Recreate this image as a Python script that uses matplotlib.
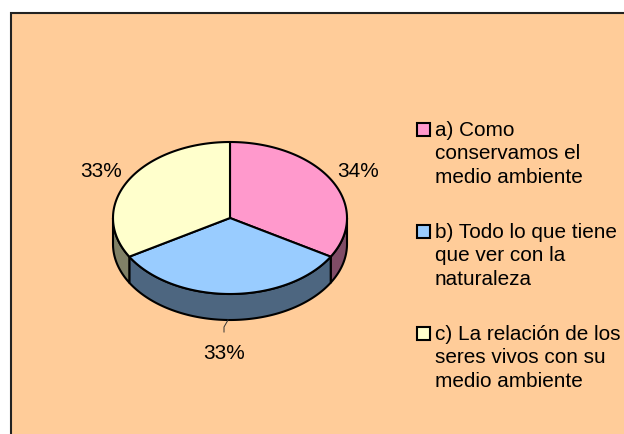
import numpy as np
import matplotlib
matplotlib.use("Agg")
import matplotlib.pyplot as plt
from matplotlib.patches import Polygon, Rectangle

plt.rcParams["font.family"] = ["Liberation Sans", "DejaVu Sans"]

W, H = 624, 434

# slice shares, labels as printed on it
shares = [33.5, 33.0, 33.5]
pct_labels = ["34%", "33%", "33%"]
legend_labels = [
    ["a) Como", "conservamos el", "medio ambiente"],
    ["b) Todo lo que tiene", "que ver con la", "naturaleza"],
    ["c) La relación de los", "seres vivos con su", "medio ambiente"],
]
colors = ["#FF99CC", "#99CCFF", "#FFFFCC"]
side_colors = ["#804C66", "#4D6680", "#808066"]
background = "#FFCC99"

# pixel layout of the fake 3d pie
cx, cy, rx, ry, depth = 230, 218, 117, 76, 26
pct_baseline = [(358, 177), (224, 359), (101, 177)]
legend_y = [123, 225, 327]
text_base = [136, 238, 340]
line_step = 23.4
font_px = 20.8
fs = font_px * 72 / 100


def rim(a0, a1, dy=0):
    # angles clockwise from 12 o'clock, in degrees
    t = np.radians(np.linspace(a0, a1, 120))
    return np.column_stack([cx + rx * np.sin(t), cy + dy - ry * np.cos(t)])


fig = plt.figure(figsize=(W / 100, H / 100), dpi=100, facecolor="white")
ax = fig.add_axes([0, 0, 1, 1])
ax.set_xlim(0, W)
ax.set_ylim(H, 0)
ax.axis("off")

# chart area, open on the right and at the bottom
ax.add_patch(Rectangle((10.5, 13), W, H, fc=background, ec="#222222", lw=1.5))

edges = np.cumsum([0] + shares) / sum(shares) * 360

# side walls first, only the front half (90..270) can be seen
for i in range(len(shares)):
    a0, a1 = max(edges[i], 90), min(edges[i + 1], 270)
    if a1 <= a0:
        continue
    top = rim(a0, a1)
    bottom = rim(a0, a1, depth)[::-1]
    ax.add_patch(Polygon(np.vstack([top, bottom]), closed=True, fc=side_colors[i],
                         ec="black", lw=1.5, joinstyle="round"))

# top face
for i in range(len(shares)):
    pts = np.vstack([[(cx, cy)], rim(edges[i], edges[i + 1])])
    ax.add_patch(Polygon(pts, closed=True, fc=colors[i], ec="black", lw=1.5, joinstyle="round"))

# leader line of the bottom label
ax.plot([228, 224, 224], [320, 327, 332], color="#333333", lw=0.7)

for (x, y), s in zip(pct_baseline, pct_labels):
    ax.text(x, y, s, fontsize=fs, ha="center", va="baseline", color="black")

for y0, base, lines, c in zip(legend_y, text_base, legend_labels, colors):
    ax.add_patch(Rectangle((416.5, y0), 13, 13, fc=c, ec="black", lw=1.5))
    for j, s in enumerate(lines):
        ax.text(435, base + j * line_step, s, fontsize=fs, ha="left", va="baseline", color="black")

fig.savefig("out.png", dpi=100, facecolor="white")
